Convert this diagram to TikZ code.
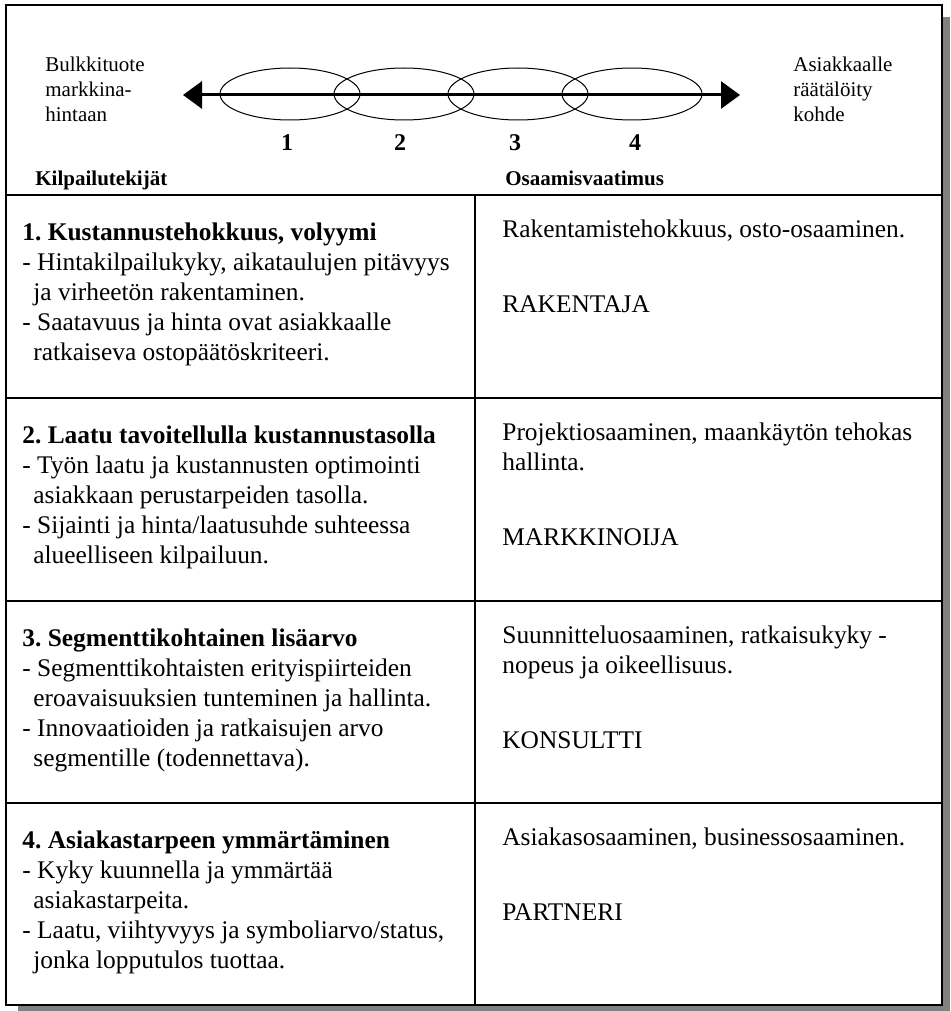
\documentclass[tikz,border=0pt]{standalone}
\usepackage{fontspec}
\setmainfont{Liberation Serif}
\usetikzlibrary{arrows.meta,shapes.geometric}

\tikzset{
  frame/.style={draw, line width=1pt},
  zone/.style={ellipse, draw, line width=0.5pt, minimum width=70pt, minimum height=26pt, inner sep=0pt},
  axis/.style={line width=1.5pt, {Triangle[length=9.5pt,width=13.5pt]}-{Triangle[length=9.5pt,width=13.5pt]}},
  endtext/.style={font=\fontsize{10.5}{12.4}\selectfont, align=left, anchor=base west, inner sep=0pt},
  colhead/.style={font=\fontsize{10.5}{12.5}\selectfont\bfseries, anchor=base west, inner sep=0pt},
  num/.style={font=\fontsize{12}{14}\selectfont\bfseries, anchor=base, inner sep=0pt},
  cell/.style={font=\fontsize{12.7}{15}\selectfont, align=left, anchor=base west, inner sep=0pt},
  role/.style={font=\fontsize{12.7}{15}\selectfont, anchor=base west, inner sep=0pt}
}
\newcommand{\ind}{\hspace*{5.5pt}}

\begin{document}
\begin{tikzpicture}[x=0.5pt, y=-0.5pt]
  \useasboundingbox (0,0) rectangle (950,1011);

  % shadow and frame
  \fill[black!50] (18,17) rectangle (950,1011);
  \fill[white] (6,5) rectangle (942,1005);
  \draw[frame] (6,5) rectangle (942,1005);
  \draw[frame] (6,195) -- (942,195);
  \draw[frame] (6,398) -- (942,398);
  \draw[frame] (6,601) -- (942,601);
  \draw[frame] (6,803) -- (942,803);
  \draw[frame] (475,195) -- (475,1005);

  % scale of the offering
  \node[zone] (z1) at (290,94) {};
  \node[zone] (z2) at (404,94) {};
  \node[zone] (z3) at (518,94) {};
  \node[zone] (z4) at (632,94) {};
  \coordinate (bulk end) at (183,95);
  \coordinate (custom end) at (740,95);
  \draw[axis] (bulk end) -- (custom end);

  \node[num] (n1) at (287,150) {1};
  \node[num] (n2) at (400,150) {2};
  \node[num] (n3) at (515,150) {3};
  \node[num] (n4) at (635,150) {4};

  % base of a multi-line node = its last line
  \node[endtext] (bulk) at (45,121) {Bulkkituote\\markkina-\\hintaan};
  \node[endtext] (custom) at (793,121) {Asiakkaalle\\räätälöity\\kohde};

  \node[colhead] (factors) at (35,185) {Kilpailutekijät};
  \node[colhead] (skills) at (505,185) {Osaamisvaatimus};

  % left column
  \node[cell] (f1) at (22,360) {\textbf{1.\ Kustannustehokkuus, volyymi}\\
    - Hintakilpailukyky, aikataulujen pitävyys\\
    \ind ja virheetön rakentaminen.\\
    - Saatavuus ja hinta ovat asiakkaalle\\
    \ind ratkaiseva ostopäätöskriteeri.};
  \node[cell] (f2) at (22,563) {\textbf{2.\ Laatu tavoitellulla kustannustasolla}\\
    - Työn laatu ja kustannusten optimointi\\
    \ind asiakkaan perustarpeiden tasolla.\\
    - Sijainti ja hinta/laatusuhde suhteessa\\
    \ind alueelliseen kilpailuun.};
  \node[cell] (f3) at (22,766) {\textbf{3.\ Segmenttikohtainen lisäarvo}\\
    - Segmenttikohtaisten erityispiirteiden\\
    \ind eroavaisuuksien tunteminen ja hallinta.\\
    - Innovaatioiden ja ratkaisujen arvo\\
    \ind segmentille (todennettava).};
  \node[cell] (f4) at (22,968) {\textbf{4.\ Asiakastarpeen ymmärtäminen}\\
    - Kyky kuunnella ja ymmärtää\\
    \ind asiakastarpeita.\\
    - Laatu, viihtyvyys ja symboliarvo/status,\\
    \ind jonka lopputulos tuottaa.};

  % right column
  \node[cell] (s1) at (502,237) {Rakentamistehokkuus, osto-osaaminen.};
  \node[role] (r1) at (502,312) {RAKENTAJA};
  \node[cell] (s2) at (502,470) {Projektiosaaminen, maankäytön tehokas\\hallinta.};
  \node[role] (r2) at (502,545) {MARKKINOIJA};
  \node[cell] (s3) at (502,673) {Suunnitteluosaaminen, ratkaisukyky -\\nopeus ja oikeellisuus.};
  \node[role] (r3) at (502,748) {KONSULTTI};
  \node[cell] (s4) at (502,845) {Asiakasosaaminen, businessosaaminen.};
  \node[role] (r4) at (502,920) {PARTNERI};
\end{tikzpicture}
\end{document}
